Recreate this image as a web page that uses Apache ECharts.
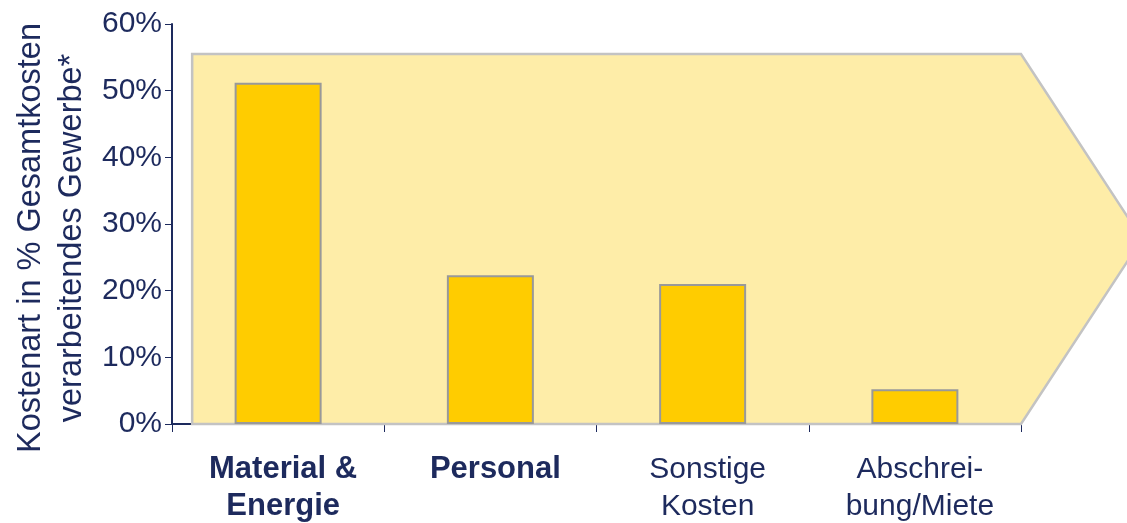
<!DOCTYPE html>
<html>
<head>
<meta charset="utf-8">
<script src="https://cdn.jsdelivr.net/npm/echarts@6/dist/echarts.min.js"></script>
<style>
html,body{margin:0;padding:0;background:#fff;}
#c{width:1127px;height:523px;}
</style>
</head>
<body>
<div id="c"></div>
<script>
const categories = ['Material &\nEnergie', 'Personal', 'Sonstige\nKosten', 'Abschrei-\nbung/Miete'];
const boldCategories = [true, true, false, false];
const values = [51.2, 22.3, 21.0, 5.2];
const arrowHeight = [55.5];
const yTicks = [0, 10, 20, 30, 40, 50, 60];
const yTitle = 'Kostenart in % Gesamtkosten\nverarbeitendes Gewerbe*';

const navy = '#1d2a5d';
const font = 'Liberation Sans, Arial, sans-serif';

const chart = echarts.init(document.getElementById('c'), null, {renderer: 'canvas'});

chart.setOption({
  backgroundColor: '#ffffff',
  animation: false,
  grid: {left: 172, right: 106, top: 24, bottom: 99, containLabel: false, outerBoundsMode: 'none'},
  graphic: [{
    type: 'text',
    x: 52,
    y: 238,
    rotation: Math.PI / 2,
    style: {
      text: yTitle,
      fill: navy,
      font: '32.5px ' + font,
      lineHeight: 41,
      align: 'center',
      verticalAlign: 'middle'
    }
  }],
  xAxis: {
    type: 'category',
    data: categories,
    axisLine: {lineStyle: {color: navy, width: 2}},
    axisTick: {show: true, length: 8, lineStyle: {color: navy, width: 1}},
    axisLabel: {
      interval: 0,
      margin: 27,
      color: navy,
      fontFamily: font,
      fontSize: 30,
      lineHeight: 37,
      padding: [0, 0, 0, 10],
      formatter: function (v, i) {
        return boldCategories[i] ? '{b|' + v.split('\n').join('}\n{b|') + '}' : v;
      },
      rich: {b: {fontWeight: 'bold', fontSize: 31, lineHeight: 37, color: navy, fontFamily: font}}
    }
  },
  yAxis: {
    type: 'value',
    min: yTicks[0],
    max: yTicks[yTicks.length - 1],
    interval: 10,
    axisLine: {show: true, lineStyle: {color: navy, width: 2}},
    axisTick: {show: true, length: 7, lineStyle: {color: navy, width: 1}},
    splitLine: {show: false},
    axisLabel: {
      color: navy, fontFamily: font, fontSize: 30, margin: 10,
      formatter: '{value}%'
    }
  },
  series: [
    {
      type: 'custom',
      z: 1,
      clip: false,
      silent: true,
      data: [[0, arrowHeight[0]]],
      renderItem: function (params, api) {
        const band = api.size([1, 0])[0];
        const topLeft = api.coord([0, api.value(1)]);
        const base = api.coord([0, 0]);
        const last = api.coord([categories.length - 1, api.value(1)]);
        const mid = api.coord([0, api.value(1) / 2]);
        const xl = topLeft[0] - band * 0.405;
        const xr = last[0] + band * 0.5;
        const xt = xr + band * 0.57;
        return {
          type: 'polygon',
          shape: {points: [[xl, base[1]], [xl, topLeft[1]], [xr, topLeft[1]], [xt, mid[1]], [xr, base[1]]]},
          style: {fill: '#feeda8', stroke: '#c3c3c3', lineWidth: 2.5}
        };
      }
    },
    {
      type: 'bar',
      z: 2,
      data: values,
      barWidth: 87,
      itemStyle: {color: '#ffcc00', borderColor: '#999999', borderWidth: 2}
    }
  ]
});
</script>
</body>
</html>
